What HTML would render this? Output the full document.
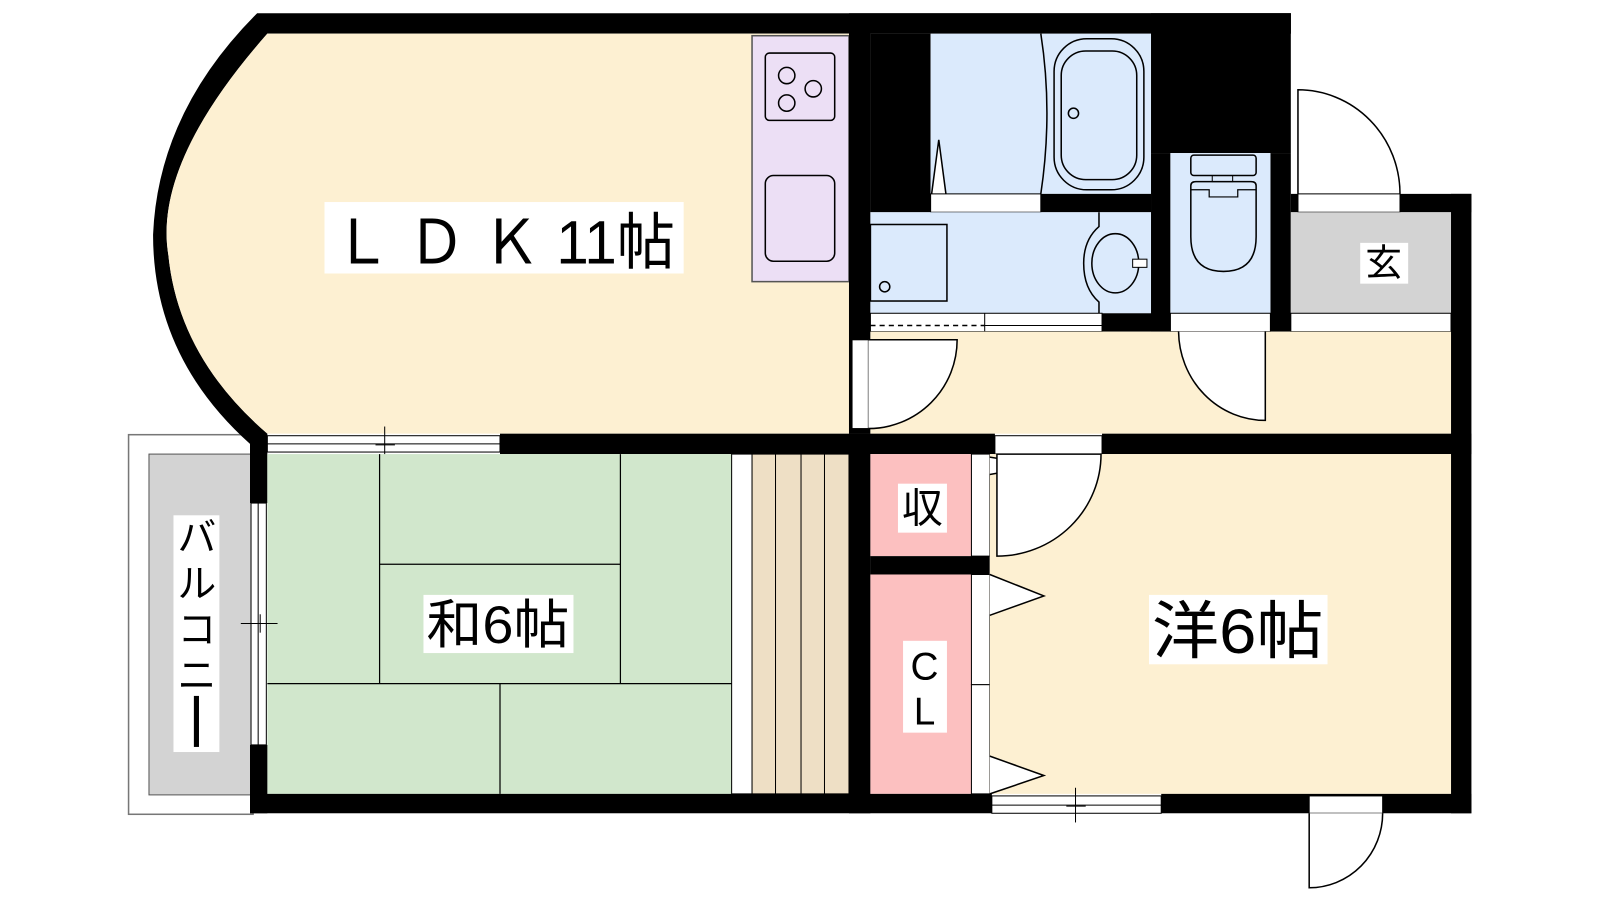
<!DOCTYPE html>
<html><head><meta charset="utf-8"><style>
html,body{margin:0;padding:0;background:#fff;overflow:hidden;}
svg{display:block;}
text{font-family:"Liberation Sans","Noto Sans CJK JP",sans-serif;fill:#000;}
</style></head><body>
<svg width="1600" height="900" viewBox="0 0 1568 882" preserveAspectRatio="none" xmlns="http://www.w3.org/2000/svg">
<!-- balcony -->
<rect x="126" y="426" width="122" height="372" fill="#fff" stroke="#777" stroke-width="1.5"/>
<rect x="146" y="445" width="100" height="334" fill="#d3d3d3" stroke="#555" stroke-width="1"/>
<!-- LDK fill + arc wall -->
<path d="M252,13 L1265,13 L1265,33 L262,33 Q150,160 165,250 Q175,350 262,425 L245,435 Q150,350 150,230 Q155,110 252,13 Z" fill="#000"/>
<path d="M262,33 L835,33 L835,425 L262,425 Q175,350 165,250 Q150,160 262,33 Z" fill="#fdf0d2"/>
<!-- kitchen counter -->
<rect x="737" y="35" width="95" height="241" fill="#ecdff5" stroke="#555" stroke-width="1.5"/>
<rect x="750" y="52" width="68" height="66" rx="4" fill="none" stroke="#000" stroke-width="1.5"/>
<circle cx="771" cy="74" r="8" fill="none" stroke="#000" stroke-width="1.5"/>
<circle cx="771" cy="101" r="8" fill="none" stroke="#000" stroke-width="1.5"/>
<circle cx="797" cy="87" r="8" fill="none" stroke="#000" stroke-width="1.5"/>
<rect x="750" y="172" width="68" height="84" rx="8" fill="none" stroke="#000" stroke-width="1.5"/>
<!-- LDK right wall column -->
<rect x="832" y="13" width="21" height="412" fill="#000"/>
<rect x="853" y="13" width="412" height="20" fill="#000"/>
<rect x="853" y="33" width="59" height="175" fill="#000"/>
<!-- bath -->
<rect x="912" y="33" width="216" height="157" fill="#dbeafc"/>
<path d="M1020,33 Q1032,110 1020,190" fill="none" stroke="#000" stroke-width="1.5"/>
<rect x="1033" y="38" width="88" height="148" rx="32" fill="none" stroke="#000" stroke-width="1.5"/>
<rect x="1040" y="50" width="74" height="126" rx="24" fill="none" stroke="#000" stroke-width="1.5"/>
<circle cx="1052" cy="111" r="5" fill="none" stroke="#000" stroke-width="1.5"/>
<path d="M913,190 L920,137 L927,190" fill="#fff" stroke="#000" stroke-width="1.5"/>
<rect x="912" y="190" width="108" height="18" fill="#fff" stroke="#000" stroke-width="1"/>
<rect x="1020" y="190" width="108" height="18" fill="#000"/>
<!-- wash -->
<rect x="853" y="208" width="275" height="99" fill="#dbeafc"/>
<rect x="853" y="220" width="75" height="75" fill="none" stroke="#000" stroke-width="1.5"/>
<circle cx="867" cy="281" r="5" fill="none" stroke="#000" stroke-width="1.5"/>
<path d="M1077,208 L1077,222 Q1062,235 1062,258 Q1062,283 1077,296 L1077,307" fill="none" stroke="#000" stroke-width="1.5"/>
<ellipse cx="1093" cy="258" rx="23" ry="29" fill="none" stroke="#000" stroke-width="1.5"/>
<rect x="1110" y="254" width="14" height="8" fill="#fff" stroke="#000" stroke-width="1"/>
<rect x="853" y="307" width="227" height="18" fill="#fff" stroke="#000" stroke-width="1"/>
<line x1="853" y1="319" x2="965" y2="319" stroke="#000" stroke-width="1.5" stroke-dasharray="5,4"/>
<line x1="965" y1="307" x2="965" y2="325" stroke="#000" stroke-width="1"/>
<line x1="965" y1="319" x2="1080" y2="319" stroke="#000" stroke-width="1"/>
<rect x="1080" y="307" width="67" height="18" fill="#000"/>
<!-- toilet -->
<rect x="1128" y="13" width="137" height="137" fill="#000"/>
<rect x="1128" y="150" width="19" height="175" fill="#000"/>
<rect x="1245" y="150" width="20" height="175" fill="#000"/>
<rect x="1147" y="150" width="98" height="157" fill="#dbeafc"/>
<rect x="1167" y="152" width="64" height="20" rx="3" fill="none" stroke="#000" stroke-width="1.5"/>
<rect x="1188" y="172" width="20" height="6" fill="none" stroke="#000" stroke-width="1"/>
<path d="M1167,182 Q1167,178 1172,178 L1226,178 Q1231,178 1231,182 L1231,232 Q1231,266 1199,266 Q1167,266 1167,232 Z" fill="none" stroke="#000" stroke-width="1.5"/>
<path d="M1167,186 L1185,186 L1185,193 L1213,193 L1213,186 L1231,186" fill="none" stroke="#000" stroke-width="1.2"/>
<rect x="1147" y="307" width="98" height="18" fill="#fff" stroke="#000" stroke-width="1"/>
<!-- genkan -->
<rect x="1265" y="190" width="177" height="18" fill="#000"/>
<rect x="1272" y="190" width="100" height="18" fill="#fff" stroke="#000" stroke-width="1"/>
<path d="M1272,190 L1272,88 A100,102 0 0 1 1372,190" fill="none" stroke="#000" stroke-width="1.5"/>
<rect x="1265" y="208" width="157" height="99" fill="#d3d3d3"/>
<rect x="1265" y="307" width="157" height="18" fill="#fff" stroke="#000" stroke-width="1"/>
<rect x="1422" y="190" width="20" height="607" fill="#000"/>
<!-- hallway -->
<rect x="853" y="325" width="569" height="100" fill="#fdf0d2"/>
<rect x="835" y="333" width="16" height="87" fill="#fff" stroke="#000" stroke-width="1"/>
<path d="M851,420 A87,87 0 0 0 938,333 L851,333" fill="#fff" stroke="#000" stroke-width="1.5"/>
<path d="M1155,325 A85,88 0 0 0 1240,412 L1240,325" fill="#fff" stroke="#000" stroke-width="1.5"/>
<!-- middle horizontal wall -->
<rect x="245" y="425" width="17" height="68" fill="#000"/>
<rect x="262" y="427" width="228" height="16" fill="#fff" stroke="#000" stroke-width="1"/>
<line x1="262" y1="435" x2="490" y2="435" stroke="#000" stroke-width="1"/>
<line x1="377" y1="418" x2="377" y2="452" stroke="#000" stroke-width="1"/>
<line x1="368" y1="436" x2="387" y2="436" stroke="#000" stroke-width="1"/>
<rect x="490" y="425" width="485" height="20" fill="#000"/>
<rect x="975" y="427" width="105" height="18" fill="#fff" stroke="#000" stroke-width="1"/>
<rect x="1080" y="425" width="362" height="20" fill="#000"/>
<!-- tatami -->
<rect x="262" y="445" width="455" height="333" fill="#d1e7cc"/>
<g stroke="#000" stroke-width="1.2">
<line x1="372" y1="445" x2="372" y2="670"/>
<line x1="372" y1="553" x2="608" y2="553"/>
<line x1="608" y1="445" x2="608" y2="670"/>
<line x1="262" y1="670" x2="717" y2="670"/>
<line x1="490" y1="670" x2="490" y2="778"/>
</g>
<rect x="717" y="445" width="20" height="333" fill="#fff" stroke="#000" stroke-width="1"/>
<rect x="737" y="445" width="95" height="333" fill="#eedfc5" stroke="#000" stroke-width="1"/>
<g stroke="#000" stroke-width="1"><line x1="760" y1="445" x2="760" y2="778"/><line x1="785" y1="445" x2="785" y2="778"/><line x1="808" y1="445" x2="808" y2="778"/></g>
<!-- left window of tatami -->
<rect x="246" y="493" width="15" height="237" fill="#fff" stroke="#000" stroke-width="1"/>
<line x1="253" y1="493" x2="253" y2="730" stroke="#000" stroke-width="1"/>
<line x1="236" y1="611" x2="272" y2="611" stroke="#000" stroke-width="1"/>
<line x1="255" y1="602" x2="255" y2="620" stroke="#000" stroke-width="1"/>
<rect x="245" y="730" width="17" height="67" fill="#000"/>
<!-- column -->
<rect x="832" y="425" width="21" height="372" fill="#000"/>
<!-- closets -->
<rect x="853" y="445" width="99" height="100" fill="#fcc0c0"/>
<rect x="853" y="545" width="117" height="18" fill="#000"/>
<rect x="853" y="563" width="99" height="215" fill="#fcc0c0"/>
<rect x="952" y="445" width="18" height="100" fill="#fff" stroke="#000" stroke-width="1"/>
<rect x="952" y="563" width="18" height="108" fill="#fff" stroke="#000" stroke-width="1"/>
<rect x="952" y="671" width="18" height="107" fill="#fff" stroke="#000" stroke-width="1"/>
<!-- western room -->
<rect x="970" y="445" width="452" height="333" fill="#fdf0d2"/>
<path d="M970,465 L1020,456 L970,448" fill="#fff" stroke="#000" stroke-width="1.5"/>
<path d="M970,603 L1023,584 L970,563" fill="#fff" stroke="#000" stroke-width="1.5"/>
<path d="M970,778 L1023,760 L970,741" fill="#fff" stroke="#000" stroke-width="1.5"/>
<path d="M977,445 L977,545 A102,100 0 0 0 1079,445 Z" fill="#fff" stroke="#000" stroke-width="1.5"/>
<!-- bottom wall -->
<rect x="245" y="778" width="727" height="19" fill="#000"/>
<rect x="972" y="780" width="166" height="17" fill="#fff" stroke="#000" stroke-width="1"/>
<line x1="972" y1="789" x2="1138" y2="789" stroke="#000" stroke-width="1"/>
<line x1="1054" y1="772" x2="1054" y2="806" stroke="#000" stroke-width="1"/>
<line x1="1045" y1="790" x2="1064" y2="790" stroke="#000" stroke-width="1"/>
<rect x="1138" y="778" width="304" height="19" fill="#000"/>
<rect x="1283" y="780" width="72" height="17" fill="#fff" stroke="#000" stroke-width="1"/>
<path d="M1283,797 L1283,870 A72,73 0 0 0 1355,797" fill="#fff" stroke="#000" stroke-width="1.5"/>
<!-- labels -->
<rect x="318" y="198" width="352" height="70" fill="#fff"/>
<text x="494" y="258" font-size="60" text-anchor="middle" textLength="335" lengthAdjust="spacingAndGlyphs">Ｌ Ｄ Ｋ 11帖</text>
<rect x="415" y="583" width="147" height="57" fill="#fff"/>
<text x="488" y="630" font-size="52" text-anchor="middle" textLength="140" lengthAdjust="spacingAndGlyphs">和6帖</text>
<rect x="1126" y="583" width="175" height="68" fill="#fff"/>
<text x="1213" y="640" font-size="62" text-anchor="middle" textLength="168" lengthAdjust="spacingAndGlyphs">洋6帖</text>
<rect x="1333" y="238" width="47" height="40" fill="#fff"/>
<text x="1356" y="270" font-size="36" text-anchor="middle">玄</text>
<rect x="880" y="474" width="48" height="48" fill="#fff"/>
<text x="904" y="512" font-size="40" text-anchor="middle">収</text>
<rect x="885" y="628" width="43" height="90" fill="#fff"/>
<text x="906" y="666" font-size="38" text-anchor="middle">C</text>
<text x="906" y="710" font-size="38" text-anchor="middle">L</text>
<rect x="170" y="505" width="45" height="232" fill="#fff"/>
<text x="193" y="540" font-size="38" text-anchor="middle">バ</text>
<text x="193" y="585" font-size="38" text-anchor="middle">ル</text>
<text x="193" y="630" font-size="38" text-anchor="middle">コ</text>
<text x="193" y="675" font-size="38" text-anchor="middle">ニ</text>
<rect x="190" y="682" width="5" height="50" fill="#000"/>
</svg>
</body></html>
